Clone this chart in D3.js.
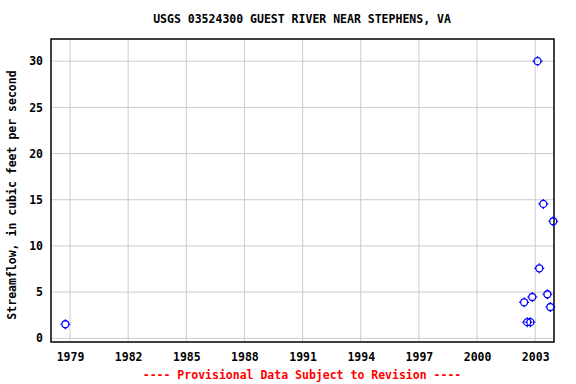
<!DOCTYPE html>
<html>
<head>
<meta charset="utf-8">
<script src="https://cdn.jsdelivr.net/npm/d3@7"></script>
<style>
  body { margin: 0; background: #fff; }
  text { font-family: "DejaVu Sans Mono", monospace; font-weight: bold; }
</style>
</head>
<body>
<div id="chart"></div>
<script>
// Site data
const years = [1978.76, 2002.43, 2002.59, 2002.75, 2002.85, 2003.12, 2003.21, 2003.42, 2003.63, 2003.78, 2003.93];
const flows = [1.52, 3.9, 1.75, 1.75, 4.47, 30.0, 7.58, 14.55, 4.77, 3.39, 12.67];
const xTicks = [1979, 1982, 1985, 1988, 1991, 1994, 1997, 2000, 2003];
const yTicks = [0, 5, 10, 15, 20, 25, 30];

const W = 576, H = 384;
const margin = { top: 39, right: 22, bottom: 42, left: 51 };
const width = W - margin.left - margin.right,
      height = H - margin.top - margin.bottom;

const svg = d3.select("#chart").append("svg")
  .attr("width", W)
  .attr("height", H);

const g = svg.append("g")
  .attr("transform", `translate(${margin.left},${margin.top})`);

const x = d3.scaleLinear().domain([1978.02, 2003.97]).range([0, width]);
const y = d3.scaleLinear().domain([-0.4, 32.4]).range([height, 0]);

// grid
g.selectAll(".vgrid").data(xTicks).enter().append("line")
  .attr("x1", d => x(d)).attr("x2", d => x(d))
  .attr("y1", 0).attr("y2", height)
  .style("stroke", "#cccccc").style("stroke-width", 1);
g.selectAll(".hgrid").data(yTicks).enter().append("line")
  .attr("y1", d => y(d)).attr("y2", d => y(d))
  .attr("x1", 0).attr("x2", width)
  .style("stroke", "#cccccc").style("stroke-width", 1);

// axes, no tick marks, just labels
const xAxis = g.append("g")
  .attr("transform", `translate(0,${height})`)
  .call(d3.axisBottom(x).tickValues(xTicks).tickFormat(d3.format("d")).tickSize(0).tickPadding(11));
const yAxis = g.append("g")
  .call(d3.axisLeft(y).tickValues(yTicks).tickSize(0).tickPadding(8));
[xAxis, yAxis].forEach(a => {
  a.select(".domain").remove();
  a.selectAll("text")
    .style("font-family", '"DejaVu Sans Mono", monospace')
    .style("font-weight", "bold")
    .style("font-size", "11.5px")
    .style("fill", "#000");
});

// frame
g.append("rect")
  .attr("width", width).attr("height", height)
  .style("fill", "none").style("stroke", "#000").style("stroke-width", 1.5);

// points: open circles with little ticks
const pts = g.selectAll(".pt").data(years.map((d, i) => ({ yr: d, q: flows[i] })))
  .enter().append("g")
  .attr("transform", d => `translate(${x(d.yr)},${y(d.q)})`);
pts.append("circle")
  .attr("r", 3.5)
  .style("fill", "none").style("stroke", "#0000ff").style("stroke-width", 1.3);
pts.append("path")
  .attr("d", "M0,-5V-3.5M0,3.5V5M-5,0H-3.5M3.5,0H5")
  .style("stroke", "#0000ff").style("stroke-width", 1.2);

// titles
svg.append("text")
  .attr("x", 302).attr("y", 23)
  .attr("text-anchor", "middle")
  .style("font-size", "11.5px")
  .text("USGS 03524300 GUEST RIVER NEAR STEPHENS, VA");

svg.append("text")
  .attr("transform", `translate(16,${margin.top + 156}) rotate(-90)`)
  .attr("text-anchor", "middle")
  .style("font-size", "11.5px")
  .text("Streamflow, in cubic feet per second");

svg.append("text")
  .attr("x", 302).attr("y", 379)
  .attr("text-anchor", "middle")
  .style("font-size", "11.5px")
  .style("fill", "#ff0000")
  .text("---- Provisional Data Subject to Revision ----");
</script>
</body>
</html>
